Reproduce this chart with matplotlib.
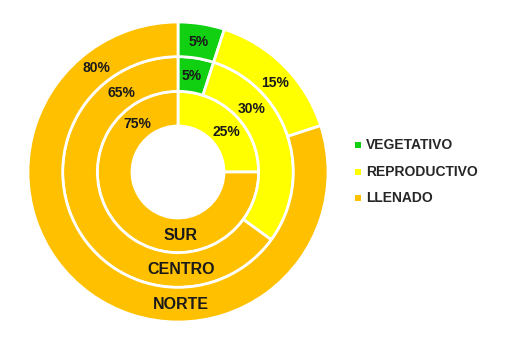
import numpy as np
import matplotlib
matplotlib.use("Agg")
import matplotlib.pyplot as plt
from matplotlib.patches import Wedge, Rectangle

rings = ["SUR", "CENTRO", "NORTE"]
stages = ["VEGETATIVO", "REPRODUCTIVO", "LLENADO"]
sur = [0, 25, 75]
centro = [5, 30, 65]
norte = [5, 15, 80]
colors = ["#11D011", "#FFFF00", "#FFC000"]

W, H = 505, 355
fig = plt.figure(figsize=(W / 100, H / 100), dpi=100)
ax = fig.add_axes([0, 0, 1, 1])
ax.set_xlim(0, W)
ax.set_ylim(H, 0)
ax.axis("off")

cx, cy = 178, 172
r_hole, r_out = 46, 150
width = (r_out - r_hole) / 3

# manual label angles (clockwise degrees from top), None = mid-angle
label_angle = {
    "SUR": [None, 50, 320],
    "CENTRO": [8, 49, 325],
    "NORTE": [9, 47, 322],
}

font = ["Liberation Sans", "DejaVu Sans"]
for i, (name, vals) in enumerate(zip(rings, [sur, centro, norte])):
    r1 = r_hole + width * (i + 1)
    start = 0.0
    rmid = r1 - width / 2
    for j, v in enumerate(vals):
        if v <= 0:
            continue
        ang = v / sum(vals) * 360
        t1 = 90 - start
        t2 = 90 - (start + ang)
        w = Wedge((cx, cy), r1, -t1, -t2, width=width, facecolor=colors[j],
                  edgecolor="white", linewidth=2)
        ax.add_patch(w)
        a = label_angle[name][j]
        if a is None:
            a = start + ang / 2
        lx = cx + rmid * np.sin(np.radians(a))
        ly = cy - rmid * np.cos(np.radians(a))
        ax.text(lx, ly + 1, f"{v}%", ha="center", va="center", fontsize=10,
                fontweight="bold", color="#1a1a1a", family=font)
        start += ang
    ax.text(cx + 3, cy + rmid, name, ha="center", va="center", fontsize=11.5,
            fontweight="bold", color="#1a1a1a", family=font)

for k, st in enumerate(stages):
    y = 145 + k * 26.5
    ax.add_patch(Rectangle((355, y - 3), 6, 6, facecolor=colors[k], edgecolor="none"))
    ax.text(366, y, st, ha="left", va="center", fontsize=10, color="#262626",
            family=font, fontweight="bold")

fig.savefig("out.png", dpi=100)
